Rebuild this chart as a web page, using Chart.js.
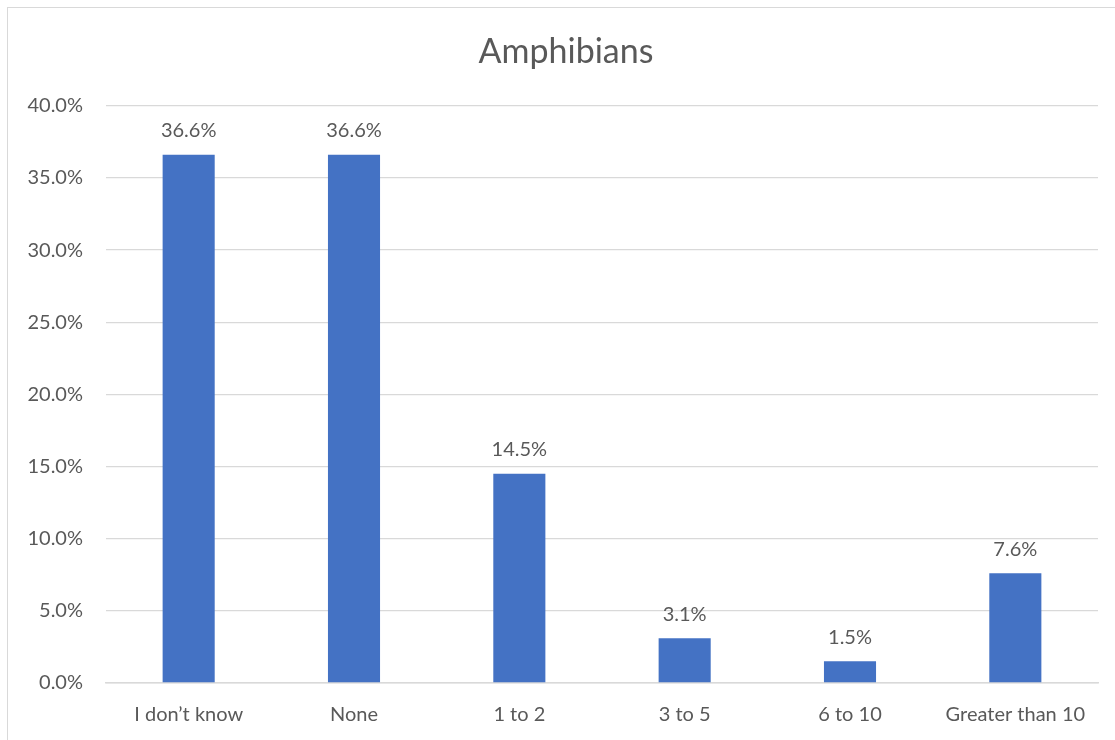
<!DOCTYPE html>
<html>
<head>
<meta charset="utf-8">
<script src="https://cdn.jsdelivr.net/npm/chart.js@4.4.1/dist/chart.umd.min.js"></script>
<style>
  html, body { margin: 0; padding: 0; background: #ffffff; overflow: hidden; }
  #frame { position: absolute; left: 7px; top: 7px; width: 1130px; height: 760px; border: 1px solid #d9d9d9; box-sizing: border-box; }
  #wrap { position: absolute; left: 0; top: 0; width: 1115px; height: 740px; }
  canvas { display: block; }
</style>
</head>
<body>
<div id="frame"></div>
<div id="wrap"><canvas id="c" width="1115" height="740"></canvas></div>
<script>
const chartTitle = 'Amphibians';
const categories = ['I don\u2019t know', 'None', '1 to 2', '3 to 5', '6 to 10', 'Greater than 10'];
const values = [0.366, 0.366, 0.145, 0.031, 0.015, 0.076];
const yTicks = [0, 0.05, 0.10, 0.15, 0.20, 0.25, 0.30, 0.35, 0.40];

const textColor = '#595959';
const fontFamily = 'Lato, "Open Sans", sans-serif';

const valueLabels = {
  id: 'valueLabels',
  afterDatasetsDraw(chart) {
    const ctx = chart.ctx;
    const meta = chart.getDatasetMeta(0);
    ctx.save();
    ctx.font = '20px ' + fontFamily;
    ctx.fillStyle = textColor;
    ctx.textAlign = 'center';
    ctx.textBaseline = 'middle';
    meta.data.forEach((bar, i) => {
      const v = chart.data.datasets[0].data[i];
      ctx.fillText((v * 100).toFixed(1) + '%', bar.x, bar.y - 24);
    });
    ctx.restore();
  }
};

// Centre the title over the whole chart frame (as the original does), not the padded area.
const titleSpan = {
  id: 'titleSpan',
  afterLayout(chart) {
    const t = chart.titleBlock;
    if (t) { t.right = chart.width; t.width = t.right - t.left; }
  }
};

new Chart(document.getElementById('c'), {
  type: 'bar',
  data: {
    labels: categories,
    datasets: [{
      data: values,
      backgroundColor: '#4472c4',
      borderWidth: 0,
      barPercentage: 1,
      categoryPercentage: 0.315
    }]
  },
  options: {
    responsive: false,
    animation: false,
    layout: { padding: { left: 17, right: 17, top: 0, bottom: -7 } },
    plugins: {
      legend: { display: false },
      tooltip: { enabled: false },
      title: {
        display: true,
        text: chartTitle,
        color: textColor,
        font: { family: fontFamily, size: 34, weight: 'normal', lineHeight: 1.2 },
        padding: { top: 32, bottom: 33 }
      }
    },
    scales: {
      x: {
        grid: { display: false, drawTicks: false },
        border: { display: true, color: '#d9d9d9', width: 1.5 },
        ticks: { color: textColor, font: { family: fontFamily, size: 20, lineHeight: 1.2 }, padding: 20, maxRotation: 0, autoSkip: false }
      },
      y: {
        min: 0,
        max: 0.4,
        afterFit(scale) { scale.width = 89; },
        afterBuildTicks(scale) { scale.ticks = yTicks.map(v => ({ value: v })); },
        grid: { color: '#d9d9d9', lineWidth: 1.3, drawTicks: false },
        border: { display: false },
        ticks: {
          color: textColor,
          font: { family: fontFamily, size: 20 },
          padding: 23,
          callback: v => (v * 100).toFixed(1) + '%'
        }
      }
    }
  },
  plugins: [valueLabels, titleSpan]
});
</script>
</body>
</html>
